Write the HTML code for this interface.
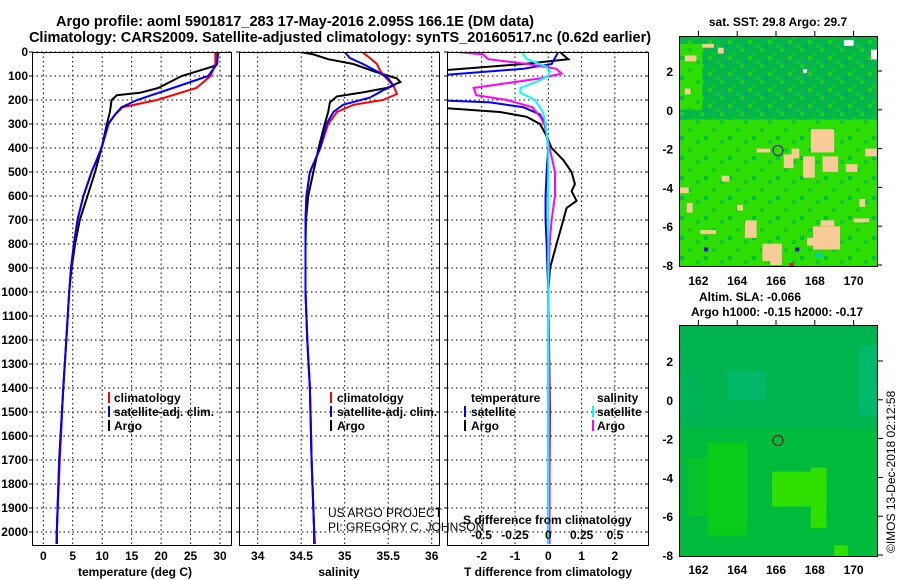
<!DOCTYPE html>
<html><head><meta charset="utf-8"><style>
body{margin:0;background:#fff;}
svg{display:block;font-family:"Liberation Sans",sans-serif;}
.b{font-weight:bold;font-size:12px;}
.t{font-weight:bold;font-size:14.5px;}
</style></head><body>
<svg id="c" width="900" height="580" viewBox="0 0 900 580">
<defs>
<clipPath id="cp1"><rect x="32" y="52" width="199" height="493"/></clipPath>
<clipPath id="cp2"><rect x="239" y="52" width="200" height="493"/></clipPath>
<clipPath id="cp3"><rect x="447" y="52" width="201" height="493"/></clipPath>
<clipPath id="cm1"><rect x="679" y="36" width="198" height="231"/></clipPath>
<clipPath id="cm2"><rect x="679" y="325" width="199" height="232"/></clipPath>
<pattern id="pUp" width="20" height="16" patternUnits="userSpaceOnUse">
<rect width="20" height="16" fill="#06b64a"/>
<rect x="0" y="0" width="4" height="4" fill="#1ccc22"/><rect x="12" y="4" width="4" height="4" fill="#00c830"/>
<rect x="8" y="8" width="4" height="4" fill="#22d010"/><rect x="4" y="12" width="4" height="4" fill="#00a860"/>
<rect x="16" y="12" width="4" height="4" fill="#10c040"/>
</pattern>
<pattern id="pLow" width="24" height="20" patternUnits="userSpaceOnUse">
<rect width="24" height="20" fill="#2ede00"/>
<rect x="0" y="0" width="4" height="4" fill="#10c830"/><rect x="16" y="8" width="4" height="4" fill="#14cc20"/>
<rect x="8" y="16" width="4" height="4" fill="#00c040"/>
</pattern>
</defs>
<text class="t" x="295" y="26" text-anchor="middle">Argo profile: aoml 5901817_283 17-May-2016 2.095S 166.1E (DM data)</text>
<text class="t" x="340" y="42" text-anchor="middle">Climatology: CARS2009. Satellite-adjusted climatology: synTS_20160517.nc (0.62d earlier)</text>
<g id="grid"></g>
<g id="series"></g>
<g id="maps"></g>
<g id="frames"></g>
<g id="labels"></g>
</svg>
<script>
// ---- data ----
const depthTicks=[0,100,200,300,400,500,600,700,800,900,1000,1100,1200,1300,1400,1500,1600,1700,1800,1900,2000];
const tempTicks=[0,5,10,15,20,25,30];
const salTicks=[34,34.5,35,35.5,36];
const tdTicks=[-2,-1,0,1,2];
const sdTicks=[-0.5,-0.25,0,0.25,0.5];
const sdTickLabels=["-0.5","-0.25","0","0.25","0.5"];

const tempArgoZ=[0,50,60,100,150,170,180,200,250,300,400,500,600,700,800,900,1000,1200,1400,1700,2000,2050];
const tempArgo=[29.6,29.5,28.8,23.5,19.5,16.4,12.5,11.6,11.3,10.8,9.9,8.8,7.5,6.2,5.4,4.8,4.4,3.9,3.4,2.7,2.3,2.3];
const tempSatZ=[0,50,100,150,200,230,260,300,400,500,600,700,800,900,1000,1200,1400,1700,2000,2050];
const tempSat=[29.7,29.5,28,22,15.9,13.3,12.2,11,9.9,8.2,6.8,5.8,5.2,4.7,4.4,3.9,3.4,2.7,2.3,2.3];
const tempClimZ=[0,50,100,150,200,230,260,300,400,500,600,700,800,900,1000,1200,1400,1700,2000,2050];
const tempClim=[29.2,29.2,28.4,26,19.3,13.5,12.2,11.1,9.9,8.2,6.8,5.8,5.2,4.7,4.4,3.9,3.4,2.8,2.3,2.2];

const salArgoZ=[0,10,30,50,80,110,125,150,170,185,210,250,300,400,500,600,700,800,1000,1200,1400,1700,2000,2050];
const salArgo=[34.49,34.64,34.81,35.10,35.33,35.60,35.64,35.48,35.18,34.91,34.83,34.81,34.77,34.70,34.64,34.58,34.555,34.55,34.55,34.57,34.60,34.62,34.65,34.65];
const salSatZ=[0,25,50,80,110,140,160,190,220,250,300,400,500,600,700,1000,1200,1400,1700,2000,2050];
const salSat=[35.0,35.06,35.21,35.37,35.50,35.56,35.44,35.29,34.98,34.87,34.79,34.72,34.60,34.56,34.55,34.55,34.57,34.60,34.62,34.65,34.65];
const salClimZ=[0,25,50,80,110,140,175,200,220,250,300,400,500,600,700,1000,1200,1400,1700,2000,2050];
const salClim=[35.2,35.29,35.37,35.41,35.48,35.56,35.60,35.44,35.10,34.91,34.81,34.72,34.60,34.56,34.55,34.55,34.57,34.60,34.62,34.65,34.66];

const dtArgoZ=[0,30,50,80,230,250,270,300,350,400,450,500,550,580,620,650,700,800,900,1000,1500,2000,2050];
const dtArgo=[0.35,0.6,-0.75,-3.5,-3.5,-1.45,-0.65,-0.25,-0.05,0.1,0.45,0.7,0.8,0.7,0.85,0.55,0.45,0.25,0.05,0,0.05,0.02,0.02];
const dtSatZ=[0,50,70,100,200,210,230,260,300,400,500,600,700,800,1000,1500,2000,2050];
const dtSat=[0.3,0.1,-0.75,-3.5,-3.5,-1.75,-0.75,-0.25,-0.1,0,-0.05,-0.08,-0.08,-0.05,0,0,0,0];
const dsArgoZ=[0,10,30,50,70,90,110,150,180,200,230,270,300,400,500,600,700,800,1000,1500,2000,2050];
const dsArgo=[-0.69,-0.49,-0.45,-0.16,0.06,0.10,-0.06,-0.56,-0.54,-0.31,-0.12,-0.06,-0.03,0.01,0.05,0.05,0.025,0.01,0,0.01,0.01,0.01];
const dsSatZ=[0,30,60,80,100,120,150,170,200,250,300,400,1000,2000,2050];
const dsSat=[-0.2,-0.16,-0.02,0.015,0,-0.07,-0.21,-0.21,-0.1,-0.04,-0.02,0,0,0,0];

const latTicks=[2,0,-2,-4,-6,-8];
const lonTicks=[162,164,166,168,170];

// ---- axes ----
const NS="http://www.w3.org/2000/svg";
const yD=d=>52+d*0.24;
const xT=t=>43.3+t*5.89;
const xS=s=>257.7+(s-34)*87;
const xTD=v=>548.3+v*33.3;
const xSD=v=>548.3+v*133.3;
const mx1=lon=>679+(lon-161)*19.4, my1=lat=>71+(2-lat)*19.4;
const mx2=lon=>679+(lon-161)*19.4, my2=lat=>361+(2-lat)*19.4;

function el(tag,attrs,parent){const e=document.createElementNS(NS,tag);for(const k in attrs)e.setAttribute(k,attrs[k]);parent.appendChild(e);return e;}
const G=document.getElementById('grid'),S=document.getElementById('series'),F=document.getElementById('frames'),L=document.getElementById('labels'),M=document.getElementById('maps');
const panels=[[32,231],[239,439],[447,648]];

panels.forEach((p,i)=>{
  depthTicks.forEach(d=>{const l=el('line',{x1:p[0],x2:p[1],y1:yD(d),y2:yD(d),stroke:'#000','stroke-dasharray':'1.5,3'},G);
  
  
  el('line',{x1:p[0]-3,x2:p[0],y1:yD(d),y2:yD(d),stroke:'#000'},G);
  el('line',{x1:p[1]-3,x2:p[1],y1:yD(d),y2:yD(d),stroke:'#000'},G);});
});
tempTicks.forEach(t=>{el('line',{x1:xT(t),x2:xT(t),y1:52,y2:545,stroke:'#000','stroke-dasharray':'1.5,3'},G);
  const tx=el('text',{x:xT(t),y:560,'text-anchor':'middle',class:'b'},L);tx.textContent=t;
  
  });
salTicks.forEach(s=>{el('line',{x1:xS(s),x2:xS(s),y1:52,y2:545,stroke:'#000','stroke-dasharray':'1.5,3'},G);
  const tx=el('text',{x:xS(s),y:560,'text-anchor':'middle',class:'b'},L);tx.textContent=s;
  
  });
tdTicks.forEach(v=>{el('line',{x1:xTD(v),x2:xTD(v),y1:52,y2:545,stroke:'#000','stroke-dasharray':'1.5,3'},G);
  const tx=el('text',{x:xTD(v),y:560,'text-anchor':'middle',class:'b'},L);tx.textContent=v;
  
  });
sdTicks.forEach((v,i)=>{const tx=el('text',{x:xSD(v),y:539,'text-anchor':'middle',class:'b'},L);tx.textContent=sdTickLabels[i];
  
  });
depthTicks.forEach(d=>{const tx=el('text',{x:28,y:yD(d)+4,'text-anchor':'end',class:'b'},L);tx.textContent=d;
  
  });

function line(zs,vs,xf,color,clip,name){
  const d=zs.map((z,i)=>(i?'L':'M')+xf(vs[i]).toFixed(1)+','+yD(z).toFixed(1)).join('');
  const p=el('path',{d:d,fill:'none',stroke:color,'stroke-width':2,'clip-path':'url(#'+clip+')'},S);
  
  
}
line(tempArgoZ,tempArgo,xT,'#000','cp1','temperature-argo-line');
line(tempClimZ,tempClim,xT,'#f00','cp1','temperature-climatology-line');
line(tempSatZ,tempSat,xT,'#00f','cp1','temperature-satellite-line');
line(salArgoZ,salArgo,xS,'#000','cp2','salinity-argo-line');
line(salClimZ,salClim,xS,'#f00','cp2','salinity-climatology-line');
line(salSatZ,salSat,xS,'#00f','cp2','salinity-satellite-line');
line(dtArgoZ,dtArgo,xTD,'#000','cp3','t-diff-argo-line');
line(dtSatZ,dtSat,xTD,'#00f','cp3','t-diff-satellite-line');
line(dsArgoZ,dsArgo,xSD,'#f0f','cp3','s-diff-argo-line');
line(dsSatZ,dsSat,xSD,'#0ff','cp3','s-diff-satellite-line');

panels.forEach(p=>{const r=el('rect',{x:p[0]+0.5,y:52.5,width:p[1]-p[0],height:493,fill:'none',stroke:'#000'},F);
  
  });

// maps: [lonMin, lonMax, latMin, latMax, fill]
function rects(g,list,mx,my){list.forEach(r=>el('rect',{x:mx(r[0]),y:my(r[3]),width:mx(r[1])-mx(r[0]),height:my(r[2])-my(r[3]),fill:r[4]},g));}
const g1=el('g',{'clip-path':'url(#cm1)'},M);


const T='#f8cc98';
rects(g1,[
 [160,172,-9,5,'url(#pLow)'],
 [160,172,-0.5,5,'url(#pUp)'],
 [161,162.2,0,3.4,'url(#pLow)'],
 [161.3,161.9,2.5,2.8,T],[162.2,162.8,3.2,3.4,T],[161.3,161.6,0.8,1.1,T],[163,163.3,2.9,3.2,T],
 [167.8,169,-2.2,-1.0,T],[167.4,168,-3.5,-2.4,T],[168.4,169.2,-3.2,-2.4,T],[166.4,166.9,-3,-2.3,T],[165,165.7,-2.2,-2.0,T],[166.8,167.2,-2.5,-2.0,T],
 [169.6,170.2,-3.2,-2.8,T],[170.6,171.2,-2.4,-2.0,T],
 [167.9,169.3,-7.2,-6],[167.6,168.1,-7,-6.6,T],[168.3,169,-6,-5.7,T],[167.9,169.3,-7.2,-6,T],
 [165.3,166.3,-7.8,-6.9,T],[165.7,166.3,-8,-7.6,T],[164.4,165,-6.6,-5.7,T],
 [161,161.5,-4.3,-4.0,T],[161.4,161.7,-5.3,-4.8,T],[162.1,162.9,-6.4,-6.2,T],[170,170.8,-5.8,-5.6,T],[170.3,170.6,-5,-4.6,T],[163.2,163.6,-3.7,-3.4,T],[164,164.3,-5.2,-4.9,T],
 [169.5,170,3.3,3.6,'#fff'],[170.9,171.2,2.6,3.1,'#fff'],[167.4,167.6,1.9,2.1,'#fff'],
 [162.3,162.5,-7.3,-7.1,'#00f'],[167,167.2,-7.3,-7.1,'#00f'],[166.7,166.9,-8.1,-7.9,'#f00'],[168,168.4,-7.6,-7.4,'#00cccc']
],mx1,my1);
const c1=el('circle',{cx:mx1(166.1),cy:my1(-2.1),r:5,fill:'none',stroke:'#000'},M);


el('rect',{x:679.5,y:36.5,width:198,height:230,fill:'none',stroke:'#000'},M);

const g2=el('g',{'clip-path':'url(#cm2)'},M);


rects(g2,[
 [160,172,-9,5,'#00bb3c'],
 [160,172,-1.5,5,'#00b450'],
 [163.5,165.5,0,1.5,'#00b865'],[170.3,172,-0.8,2.8,'#00b86a'],[161,162,-1,1.5,'#00b458'],
 [162.5,164.5,-7,-2.2,'#0acb18'],[161.5,162.5,-6,-3,'#06c42a'],[164.5,172,-4.5,-8.5,'#08c820'],[169,172,-3.5,-6.5,'#06cc10'],
 [165.8,168.6,-5.5,-3.7,'#30e000'],[167.8,168.6,-6.6,-3.5,'#30e000'],[169,169.7,-8.5,-7.5,'#30e000']
],mx2,my2);
const c2=el('circle',{cx:mx2(166.1),cy:my2(-2.1),r:5,fill:'none',stroke:'#000'},M);


el('rect',{x:679.5,y:325.5,width:198,height:231,fill:'none',stroke:'#000'},M);

latTicks.forEach(v=>{
  let t=el('text',{x:673,y:my1(v)+5,'text-anchor':'end',class:'b'},L);t.textContent=v;
  
  
  t=el('text',{x:673,y:my2(v)+5,'text-anchor':'end',class:'b'},L);t.textContent=v;
  
  
  el('line',{x1:877,x2:882,y1:my1(v),y2:my1(v),stroke:'#000'},L);
  el('line',{x1:878,x2:883,y1:my2(v),y2:my2(v),stroke:'#000'},L);
});
lonTicks.forEach(v=>{
  let t=el('text',{x:mx1(v),y:285,'text-anchor':'middle',class:'b'},L);t.textContent=v;
  
  
  t=el('text',{x:mx2(v),y:574,'text-anchor':'middle',class:'b'},L);t.textContent=v;
  
  
  el('line',{x1:mx1(v),x2:mx1(v),y1:31,y2:36,stroke:'#000'},L);
  el('line',{x1:mx2(v),x2:mx2(v),y1:320,y2:325,stroke:'#000'},L);
});
</script>
<div style="position:absolute;left:0;top:0;width:900px;height:580px;pointer-events:none;">
<svg width="900" height="580" style="position:absolute;left:0;top:0">
<g font-family="Liberation Sans, sans-serif" font-size="12" font-weight="bold">
<text x="778" y="26" text-anchor="middle">sat. SST: 29.8 Argo: 29.7</text>
<text x="750" y="301" text-anchor="middle">Altim. SLA: -0.066</text>
<text x="777" y="316" text-anchor="middle">Argo h1000: -0.15 h2000: -0.17</text>
<text x="135" y="576" text-anchor="middle">temperature (deg C)</text>
<text x="339" y="576" text-anchor="middle">salinity</text>
<text x="548" y="576" text-anchor="middle">T difference from climatology</text>
<text x="463" y="524">S difference from climatology</text>
<g>
<rect x="108" y="392" width="2" height="11" fill="#f00"/><text x="114" y="402">climatology</text>
<rect x="108" y="406" width="2" height="11" fill="#00f"/><text x="114" y="416">satellite-adj. clim.</text>
<rect x="108" y="420" width="2" height="11" fill="#000"/><text x="114" y="430">Argo</text>
</g>
<g>
<rect x="330" y="392" width="2" height="11" fill="#f00"/><text x="337" y="402">climatology</text>
<rect x="330" y="406" width="2" height="11" fill="#00f"/><text x="337" y="416">satellite-adj. clim.</text>
<rect x="330" y="420" width="2" height="11" fill="#000"/><text x="337" y="430">Argo</text>
</g>
<g>
<text x="471" y="402">temperature</text>
<rect x="464" y="406" width="2" height="11" fill="#00f"/><text x="471" y="416">satellite</text>
<rect x="464" y="420" width="2" height="11" fill="#000"/><text x="471" y="430">Argo</text>
<text x="597" y="402">salinity</text>
<rect x="592" y="406" width="2" height="11" fill="#0ff"/><text x="597" y="416">satellite</text>
<rect x="592" y="420" width="2" height="11" fill="#f0f"/><text x="597" y="430">Argo</text>
</g>
</g>
<g font-family="Liberation Sans, sans-serif" font-size="12" fill="#000">
<text x="328" y="517">US ARGO PROJECT</text>
<text x="328" y="531">PI: GREGORY C. JOHNSON</text>
<text transform="translate(895,553) rotate(-90)">©IMOS 13-Dec-2018 02:12:58</text>
</g>
</svg>
</div>
</body></html>
